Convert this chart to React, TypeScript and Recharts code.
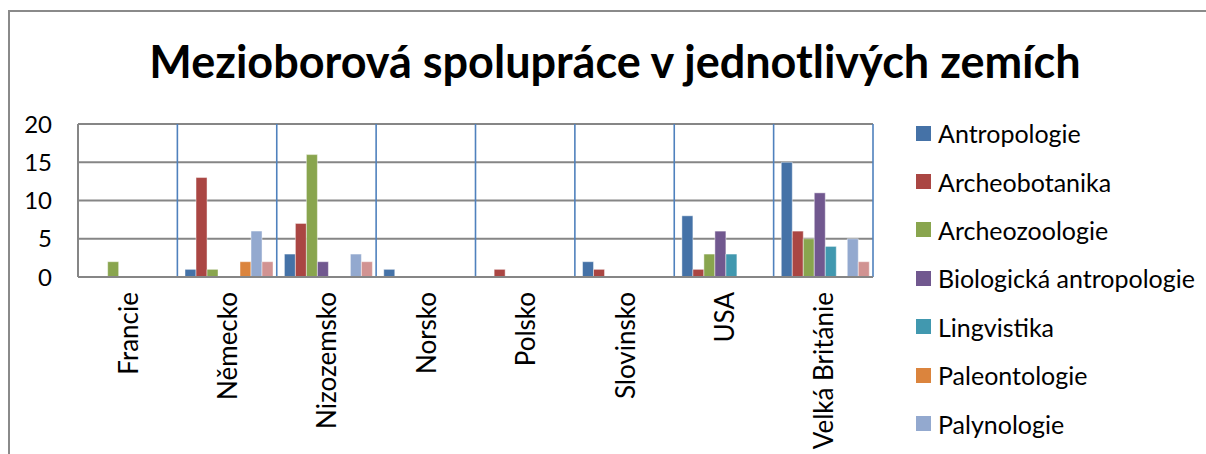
import React from 'react'
import { BarChart, Bar, XAxis, YAxis, CartesianGrid } from 'recharts'

document.body.style.margin = '0'

const FONT = 'Lato, "Noto Sans", sans-serif'

const countries = ['Francie', 'Německo', 'Nizozemsko', 'Norsko', 'Polsko', 'Slovinsko', 'USA', 'Velká Británie']

// one array per discipline, in country order
const antropologie = [0, 1, 3, 1, 0, 2, 8, 15]
const archeobotanika = [0, 13, 7, 0, 1, 1, 1, 6]
const archeozoologie = [2, 1, 16, 0, 0, 0, 3, 5]
const biologicka = [0, 0, 2, 0, 0, 0, 6, 11]
const lingvistika = [0, 0, 0, 0, 0, 0, 3, 4]
const paleontologie = [0, 2, 0, 0, 0, 0, 0, 0]
const palynologie = [0, 6, 3, 0, 0, 0, 0, 5]
const ostatni = [0, 2, 2, 0, 0, 0, 0, 2]

const yTicks = [0, 5, 10, 15, 20]

const SERIES = [
  { key: 'antropologie', name: 'Antropologie', values: antropologie, color: '#4572A7' },
  { key: 'archeobotanika', name: 'Archeobotanika', values: archeobotanika, color: '#AA4643' },
  { key: 'archeozoologie', name: 'Archeozoologie', values: archeozoologie, color: '#89A54E' },
  { key: 'biologicka', name: 'Biologická antropologie', values: biologicka, color: '#71588F' },
  { key: 'lingvistika', name: 'Lingvistika', values: lingvistika, color: '#4198AF' },
  { key: 'paleontologie', name: 'Paleontologie', values: paleontologie, color: '#DB843D' },
  { key: 'palynologie', name: 'Palynologie', values: palynologie, color: '#93A9CF' },
  { key: 'ostatni', name: 'Ostatní', values: ostatni, color: '#D19392' },
]

// the original legend runs off the bottom of the frame, only 7 entries show
const LEGEND_VISIBLE = 7

const data = countries.map((country, i) => {
  const row: Record<string, string | number> = { country }
  SERIES.forEach(s => { row[s.key] = s.values[i] })
  return row
})

function CountryTick({ x, y, payload }: any) {
  return (
    <text
      x={x}
      y={y}
      transform={`rotate(-90, ${x}, ${y})`}
      textAnchor="end"
      dominantBaseline="central"
      fontSize={26}
      fontFamily={FONT}
      fill="#000"
    >
      {payload.value}
    </text>
  )
}

export default function App() {
  return (
    <div style={{ position: 'relative', width: 1206, height: 454, overflow: 'hidden', background: '#fff', fontFamily: FONT }}>
      {/* chart frame, only top/left edges are in view */}
      <div style={{ position: 'absolute', left: 8, top: 10, width: 1300, height: 600, borderLeft: '2px solid #8a8a8a', borderTop: '2px solid #8a8a8a' }} />

      <div style={{ position: 'absolute', left: 0, top: 34, width: 1230, textAlign: 'center', fontSize: 45, fontWeight: 700, color: '#000', lineHeight: '54px' }}>
        Mezioborová spolupráce v jednotlivých zemích
      </div>

      <div style={{ position: 'absolute', left: 0, top: 0 }}>
        <BarChart
          width={1206}
          height={454}
          data={data}
          margin={{ top: 124, right: 333, left: 18, bottom: 27 }}
          barGap={0}
          barCategoryGap="7.7%"
        >
          <CartesianGrid horizontal vertical={false} stroke="#868686" strokeWidth={2} />
          <CartesianGrid
            horizontal={false}
            vertical
            stroke="#4F81BD"
            strokeWidth={1.6}
            verticalCoordinatesGenerator={({ offset }: any) =>
              countries.map((_, i) => offset.left + ((i + 1) * offset.width) / countries.length)
            }
          />
          <XAxis
            dataKey="country"
            interval={0}
            height={150}
            tickLine={false}
            axisLine={{ stroke: '#868686', strokeWidth: 2 }}
            tickSize={0}
            tickMargin={15}
            tick={<CountryTick />}
          />
          <YAxis
            width={60}
            domain={[0, 20]}
            ticks={yTicks}
            tickLine={false}
            tickSize={0}
            tickMargin={26}
            axisLine={{ stroke: '#868686', strokeWidth: 2 }}
            tick={{ fill: '#000', fontSize: 24, fontFamily: FONT }}
          />
          {SERIES.map(s => (
            <Bar
              key={s.key}
              dataKey={s.key}
              name={s.name}
              fill={s.color}
              stroke="rgba(255,255,255,0.45)"
              strokeWidth={1}
              isAnimationActive={false}
            />
          ))}
        </BarChart>
      </div>

      <div style={{ position: 'absolute', left: 916, top: 109 }}>
        {SERIES.slice(0, LEGEND_VISIBLE).map(s => (
          <div key={s.key} style={{ display: 'flex', alignItems: 'center', height: 48.4, fontSize: 25, color: '#000', whiteSpace: 'nowrap' }}>
            <span style={{ display: 'inline-block', width: 15, height: 15, background: s.color, marginRight: 7 }} />
            {s.name}
          </div>
        ))}
      </div>
    </div>
  )
}
